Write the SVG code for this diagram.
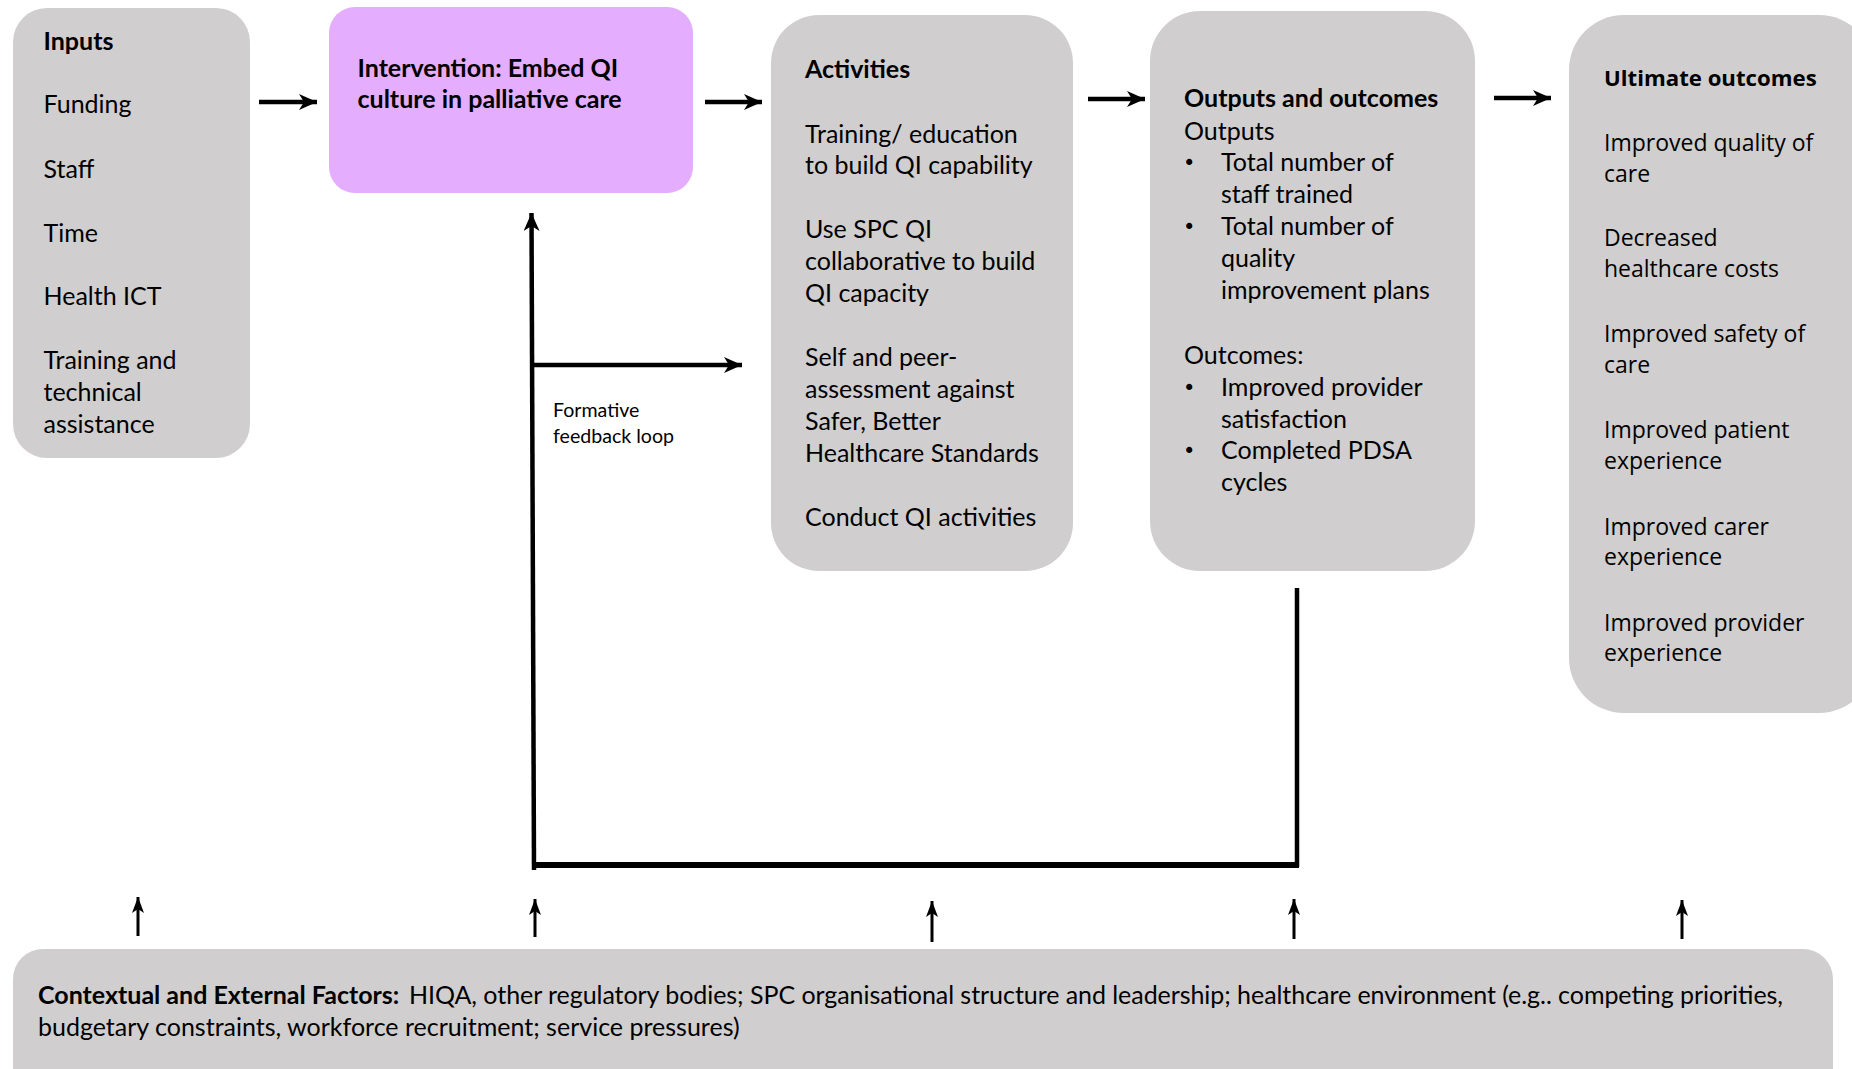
<svg xmlns="http://www.w3.org/2000/svg" width="1852" height="1069" viewBox="0 0 1852 1069">
<defs>
<style>
.box{fill:#d0cece;}
.purple{fill:#e4adfd;}
.t{font-family:Lato,"Liberation Sans",sans-serif;font-size:25px;fill:#000;}
.b{font-weight:bold;}
.bul{font-family:"DejaVu Sans",sans-serif;font-size:21px;fill:#000;}
.os{font-family:"Open Sans","DejaVu Sans",sans-serif;font-size:23px;fill:#000;}
.osb{font-size:22.2px;font-weight:bold;}
.small{font-family:Lato,"Liberation Sans",sans-serif;font-size:19.6px;fill:#000;}
.thick{stroke:#000;stroke-width:4.5;fill:none;}
.thin{stroke:#000;stroke-width:3;fill:none;}
</style>
<marker id="ah" markerUnits="userSpaceOnUse" markerWidth="20" markerHeight="16" refX="18" refY="8" orient="auto">
<path d="M0,0 L18,8 L0,16 L5,8 z" fill="#000"/>
</marker>
<marker id="ahs" markerUnits="userSpaceOnUse" markerWidth="16" markerHeight="12" refX="16" refY="6" orient="auto">
<path d="M0,0 L16,6 L0,12 L4,6 z" fill="#000"/>
</marker>
</defs>
<rect width="1852" height="1069" fill="#fff"/>

<g id="inputs">
<rect class="box" x="13" y="8" width="237" height="450" rx="34"/>
<text class="t b" x="43.5" y="50">Inputs</text>
<text class="t" x="43.5" y="113">Funding</text>
<text class="t" x="43.5" y="178">Staff</text>
<text class="t" x="43.5" y="242">Time</text>
<text class="t" x="43.5" y="305">Health ICT</text>
<text class="t" x="43.5" y="369">Training and</text>
<text class="t" x="43.5" y="401">technical</text>
<text class="t" x="43.5" y="433">assistance</text>
</g>

<g id="intervention">
<rect class="purple" x="329" y="7" width="364" height="186" rx="26"/>
<text class="t b" x="357.5" y="77">Intervention: Embed QI</text>
<text class="t b" x="357.5" y="108">culture in palliative care</text>
</g>

<g id="activities">
<rect class="box" x="771" y="15" width="302" height="556" rx="48"/>
<text class="t b" x="805" y="78">Activities</text>
<text class="t" x="805" y="143">Training/ education</text>
<text class="t" x="805" y="174">to build QI capability</text>
<text class="t" x="805" y="238">Use SPC QI</text>
<text class="t" x="805" y="270">collaborative to build</text>
<text class="t" x="805" y="302">QI capacity</text>
<text class="t" x="805" y="366">Self and peer-</text>
<text class="t" x="805" y="398">assessment against</text>
<text class="t" x="805" y="430">Safer, Better</text>
<text class="t" x="805" y="462">Healthcare Standards</text>
<text class="t" x="805" y="526">Conduct QI activities</text>
</g>

<g id="outputs">
<rect class="box" x="1150" y="11" width="325" height="560" rx="50"/>
<text class="t b" x="1184" y="107">Outputs and outcomes</text>
<text class="t" x="1184" y="140">Outputs</text>
<text class="bul" x="1183" y="170">•</text>
<text class="t" x="1221" y="171">Total number of</text>
<text class="t" x="1221" y="203">staff trained</text>
<text class="bul" x="1183" y="234">•</text>
<text class="t" x="1221" y="235">Total number of</text>
<text class="t" x="1221" y="267">quality</text>
<text class="t" x="1221" y="299">improvement plans</text>
<text class="t" x="1184" y="364">Outcomes:</text>
<text class="bul" x="1183" y="395">•</text>
<text class="t" x="1221" y="396">Improved provider</text>
<text class="t" x="1221" y="428">satisfaction</text>
<text class="bul" x="1183" y="458">•</text>
<text class="t" x="1221" y="459">Completed PDSA</text>
<text class="t" x="1221" y="491">cycles</text>
</g>

<g id="ultimate">
<rect class="box" x="1569" y="15" width="305" height="698" rx="55"/>
<text class="os osb" x="1604" y="86">Ultimate outcomes</text>
<text class="os" x="1604" y="151">Improved quality of</text>
<text class="os" x="1604" y="182">care</text>
<text class="os" x="1604" y="246">Decreased</text>
<text class="os" x="1604" y="277">healthcare costs</text>
<text class="os" x="1604" y="342">Improved safety of</text>
<text class="os" x="1604" y="373">care</text>
<text class="os" x="1604" y="438">Improved patient</text>
<text class="os" x="1604" y="469">experience</text>
<text class="os" x="1604" y="535">Improved carer</text>
<text class="os" x="1604" y="565">experience</text>
<text class="os" x="1604" y="631">Improved provider</text>
<text class="os" x="1604" y="661">experience</text>
</g>

<g id="context">
<rect class="box" x="13" y="949" width="1820" height="160" rx="30"/>
<text class="t" x="38" y="1004"><tspan class="b">Contextual and External Factors:</tspan> <tspan x="409" textLength="1374" lengthAdjust="spacing">HIQA, other regulatory bodies; SPC organisational structure and leadership; healthcare environment (e.g.. competing priorities,</tspan></text>
<text class="t" x="38" y="1036">budgetary constraints, workforce recruitment; service pressures)</text>
</g>

<g id="feedback-label">
<text class="small" x="553" y="417">Formative</text>
<text class="small" x="553" y="443">feedback loop</text>
</g>

<g id="connectors">
<line class="thick" x1="259" y1="102" x2="317" y2="102" marker-end="url(#ah)"/>
<line class="thick" x1="705" y1="102" x2="762" y2="102" marker-end="url(#ah)"/>
<line class="thick" x1="1088" y1="99" x2="1145" y2="99" marker-end="url(#ah)"/>
<line class="thick" x1="1494" y1="98" x2="1551" y2="98" marker-end="url(#ah)"/>
<line class="thick" x1="1297" y1="588" x2="1297" y2="867"/>
<line stroke="#000" stroke-width="6" x1="532" y1="865" x2="1299" y2="865"/>
<line class="thick" x1="534" y1="870" x2="531.5" y2="213" marker-end="url(#ah)"/>
<line class="thick" x1="531.5" y1="365" x2="742" y2="365" marker-end="url(#ah)"/>
<line class="thin" x1="138" y1="936" x2="138" y2="897" marker-end="url(#ahs)"/>
<line class="thin" x1="535" y1="937" x2="535" y2="899" marker-end="url(#ahs)"/>
<line class="thin" x1="932" y1="942" x2="932" y2="901" marker-end="url(#ahs)"/>
<line class="thin" x1="1294" y1="939" x2="1294" y2="899" marker-end="url(#ahs)"/>
<line class="thin" x1="1682" y1="939" x2="1682" y2="900" marker-end="url(#ahs)"/>
</g>
</svg>
